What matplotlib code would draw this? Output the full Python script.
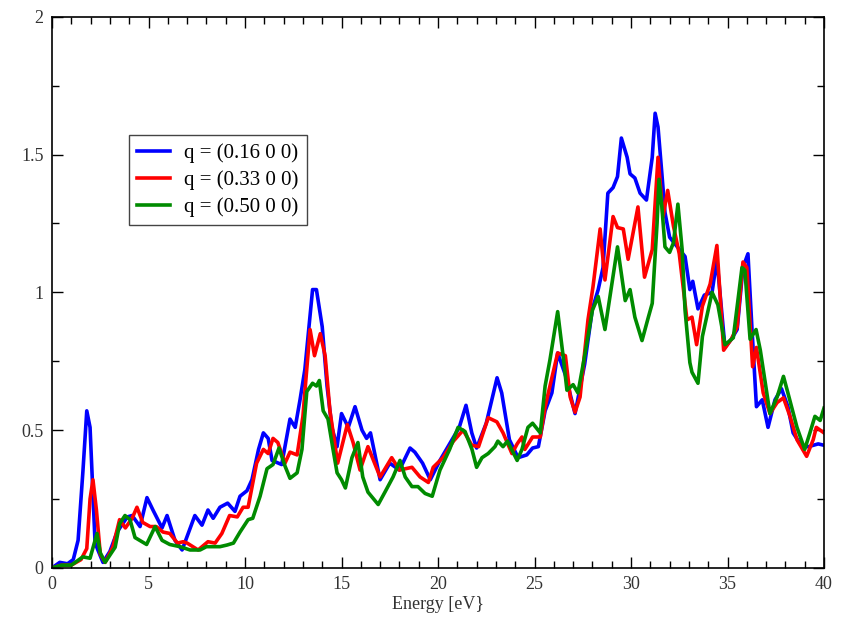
import matplotlib.pyplot as plt
from matplotlib.ticker import MultipleLocator, FormatStrFormatter

plt.rcParams['font.family'] = ['Liberation Serif', 'DejaVu Serif']

# q = (0.16 0 0)
e_q16 = [0, 0.4, 0.8, 1.1, 1.35, 1.6, 1.8, 1.97, 2.23, 2.64, 3.0, 3.37, 3.9, 4.15, 4.56,
         4.92, 5.23, 5.7, 5.96, 6.37, 6.74, 7.4, 7.77, 8.08, 8.35, 8.7, 9.1, 9.48, 9.74,
         10.1, 10.36, 10.7, 10.95, 11.2, 11.4, 11.9, 12.33, 12.6, 12.85, 13.1, 13.5, 13.7,
         14.0, 14.25, 14.5, 14.77, 15.0, 15.35, 15.7, 16.06, 16.3, 16.5, 17.0, 17.5, 18.0,
         18.55, 18.8, 19.2, 19.6, 20.1, 20.6, 21.1, 21.45, 21.75, 22.0, 22.5, 23.06, 23.3,
         23.7, 24.15, 24.6, 24.9, 25.2, 25.55, 25.9, 26.2, 26.6, 27.1, 27.6, 28.0, 28.3,
         28.55, 28.8, 29.07, 29.3, 29.5, 29.8, 29.95, 30.2, 30.47, 30.8, 31.1, 31.25, 31.4,
         31.6, 31.76, 32.0, 32.4, 32.8, 33.05, 33.2, 33.47, 33.8, 34.2, 34.45, 34.87, 35.2,
         35.5, 35.8, 36.06, 36.27, 36.5, 36.8, 37.1, 37.46, 37.8, 38.13, 38.4, 38.86, 39.2,
         39.7, 40]
v_q16 = [0, 0.02, 0.015, 0.03, 0.10, 0.35, 0.57, 0.51, 0.09, 0.02, 0.06, 0.13, 0.185, 0.19, 0.15,
         0.255, 0.21, 0.145, 0.19, 0.10, 0.065, 0.19, 0.155, 0.21, 0.18, 0.22, 0.235, 0.205, 0.26,
         0.28, 0.32, 0.43, 0.49, 0.47, 0.39, 0.375, 0.54, 0.51, 0.61, 0.72, 1.01, 1.01,
         0.875, 0.66, 0.51, 0.44, 0.56, 0.51, 0.585, 0.50, 0.47, 0.49, 0.32, 0.38, 0.355,
         0.435, 0.42, 0.38, 0.32, 0.39, 0.45, 0.51, 0.59, 0.49, 0.435, 0.525, 0.69, 0.635,
         0.465, 0.40, 0.41, 0.435, 0.44, 0.57, 0.635, 0.78, 0.70, 0.56, 0.74, 0.94, 1.01,
         1.09, 1.36, 1.38, 1.42, 1.56, 1.49, 1.43, 1.415, 1.36, 1.335, 1.49, 1.65, 1.60,
         1.43, 1.29, 1.20, 1.165, 1.13, 1.01, 1.04, 0.94, 0.99, 1.0, 1.12, 0.80, 0.83,
         0.865, 1.09, 1.14, 0.865, 0.585, 0.61, 0.51, 0.61, 0.65, 0.585, 0.49, 0.44, 0.44,
         0.45, 0.445]

# q = (0.33 0 0)
e_q33 = [0, 0.5, 1.0, 1.5, 1.8, 1.97, 2.12, 2.3, 2.5, 2.75, 3.15, 3.5, 3.8, 4.15, 4.4, 4.7,
         5.08, 5.4, 5.75, 6.1, 6.5, 6.8, 7.0, 7.57, 8.08, 8.45, 8.8, 9.2, 9.6, 9.9, 10.16,
         10.6, 10.95, 11.2, 11.45, 11.7, 12.07, 12.33, 12.7, 13.0, 13.15, 13.37, 13.6, 13.9,
         14.15, 14.4, 14.8, 15.3, 15.6, 15.96, 16.37, 17.0, 17.6, 18.0, 18.65, 19.07, 19.5,
         19.75, 20.26, 20.8, 21.3, 21.75, 22.1, 22.6, 23.05, 23.37, 23.83, 24.1, 24.35, 24.5,
         24.9, 25.3, 25.55, 25.9, 26.2, 26.6, 26.85, 27.1, 27.36, 27.77, 28.03, 28.4, 28.65,
         29.07, 29.3, 29.6, 29.85, 30.36, 30.7, 31.1, 31.4, 31.66, 31.9, 32.2, 32.5, 32.9,
         33.16, 33.4, 33.7, 34.1, 34.45, 34.8, 35.2, 35.5, 35.8, 36.0, 36.3, 36.5, 36.85,
         37.2, 37.57, 37.9, 38.24, 38.6, 39.1, 39.44, 39.6, 40]
v_q33 = [0, 0.01, 0.01, 0.03, 0.07, 0.25, 0.32, 0.21, 0.05, 0.02, 0.075, 0.175, 0.145, 0.18, 0.22, 0.165,
         0.15, 0.15, 0.13, 0.125, 0.09, 0.095, 0.09, 0.065, 0.095, 0.09, 0.125, 0.19, 0.185, 0.22, 0.22,
         0.38, 0.43, 0.415, 0.47, 0.455, 0.38, 0.42, 0.41, 0.55, 0.68, 0.865, 0.77, 0.85,
         0.77, 0.57, 0.38, 0.52, 0.455, 0.355, 0.44, 0.33, 0.40, 0.355, 0.365, 0.33, 0.31,
         0.365, 0.40, 0.46, 0.50, 0.445, 0.44, 0.545, 0.53, 0.49, 0.415, 0.45, 0.475, 0.43,
         0.475, 0.475, 0.585, 0.69, 0.78, 0.77, 0.62, 0.565, 0.62, 0.90, 1.02, 1.23, 1.045,
         1.275, 1.235, 1.23, 1.12, 1.31, 1.055, 1.155, 1.49, 1.275, 1.37, 1.24, 1.14, 0.90,
         0.91, 0.81, 0.95, 1.03, 1.17, 0.79, 0.83, 0.875, 1.11, 1.09, 0.73, 0.80, 0.635,
         0.56, 0.60, 0.617, 0.55, 0.465, 0.405, 0.465, 0.51, 0.49]

# q = (0.50 0 0)
e_q50 = [0, 0.5, 1.0, 1.6, 1.97, 2.33, 2.5, 2.75, 3.27, 3.5, 3.78, 4.04, 4.3, 4.9, 5.34, 5.7,
         6.1, 6.63, 7.15, 7.67, 8.0, 8.7, 9.07, 9.4, 9.74, 10.16, 10.4, 10.78, 11.14, 11.45,
         11.76, 12.07, 12.33, 12.7, 12.95, 13.2, 13.5, 13.7, 13.85, 14.05, 14.3, 14.56, 14.77,
         15.0, 15.2, 15.54, 15.85, 16.1, 16.37, 16.9, 17.25, 17.67, 18.03, 18.3, 18.65, 18.96,
         19.33, 19.7, 20.1, 20.6, 21.04, 21.4, 21.76, 22.0, 22.28, 22.6, 22.95, 23.1, 23.37,
         23.6, 24.1, 24.35, 24.66, 24.9, 25.3, 25.55, 25.8, 26.2, 26.48, 26.68, 27.0, 27.25,
         27.6, 28.0, 28.3, 28.65, 29.3, 29.7, 29.95, 30.2, 30.57, 30.9, 31.1, 31.35, 31.45,
         31.6, 31.76, 32.0, 32.2, 32.43, 32.65, 32.8, 33.05, 33.16, 33.47, 33.7, 34.2, 34.5,
         34.87, 35.3, 35.75, 35.9, 36.17, 36.48, 36.7, 37.2, 37.57, 37.9, 38.13, 38.6, 39.0,
         39.27, 39.53, 39.8, 40]
v_q50 = [0, 0.01, 0.01, 0.04, 0.035, 0.125, 0.055, 0.02, 0.075, 0.16, 0.19, 0.175, 0.11, 0.085, 0.15, 0.10,
         0.085, 0.077, 0.065, 0.065, 0.077, 0.077, 0.083, 0.09, 0.13, 0.175, 0.18, 0.26, 0.36, 0.375,
         0.435, 0.37, 0.325, 0.345, 0.43, 0.64, 0.67, 0.66, 0.68, 0.57, 0.54, 0.43, 0.345,
         0.32, 0.29, 0.40, 0.455, 0.33, 0.275, 0.23, 0.275, 0.33, 0.39, 0.33, 0.295, 0.295,
         0.27, 0.26, 0.355, 0.43, 0.51, 0.495, 0.43, 0.365, 0.40, 0.415, 0.44, 0.46, 0.44,
         0.46, 0.39, 0.43, 0.51, 0.525, 0.49, 0.66, 0.755, 0.93, 0.77, 0.645, 0.665, 0.635,
         0.77, 0.935, 0.985, 0.865, 1.165, 0.97, 1.01, 0.91, 0.825, 0.91, 0.96, 1.25, 1.41,
         1.31, 1.165, 1.145, 1.18, 1.32, 1.155, 0.935, 0.745, 0.71, 0.67, 0.84, 1.0, 0.955,
         0.81, 0.835, 1.09, 1.08, 0.83, 0.865, 0.79, 0.56, 0.62, 0.695, 0.635, 0.51, 0.43,
         0.49, 0.55, 0.535, 0.58]

labels = ["q = (0.16 0 0)", "q = (0.33 0 0)", "q = (0.50 0 0)"]
colors = ["#0000ff", "#ff0000", "#008b00"]

fig = plt.figure(figsize=(8.53, 6.22), dpi=100)
ax = fig.add_axes([0.061, 0.087, 0.905, 0.886])

for e, v, lab, c in zip([e_q16, e_q33, e_q50], [v_q16, v_q33, v_q50], labels, colors):
    ax.plot(e, v, color=c, lw=2.6, label=lab, solid_joinstyle='round')

ax.set_xlim(0, 40)
ax.set_ylim(0, 2)
ax.xaxis.set_major_locator(MultipleLocator(5))
ax.xaxis.set_minor_locator(MultipleLocator(1))
ax.yaxis.set_major_locator(MultipleLocator(0.5))
ax.yaxis.set_minor_locator(MultipleLocator(0.25))
ax.yaxis.set_major_formatter(FormatStrFormatter('%g'))
ax.tick_params(which='both', direction='in', top=True, right=True, labelsize=13,
               width=1, labelcolor='#333333')
ax.tick_params(which='major', length=8, pad=6)
ax.tick_params(which='minor', length=5)
for s in ax.spines.values():
    s.set_linewidth(1.2)

ax.set_xlabel("Energy [eV}", fontsize=13, labelpad=2, color='#333333')

leg = ax.legend(loc='upper left', bbox_to_anchor=(0.0997, 0.786), borderaxespad=0,
                fancybox=False, edgecolor='#444444', framealpha=1, fontsize=15,
                handlelength=1.55, handletextpad=0.7, labelspacing=0.35, borderpad=0.4)
leg.get_frame().set_linewidth(1.0)

fig.savefig("out.png", dpi=100)
